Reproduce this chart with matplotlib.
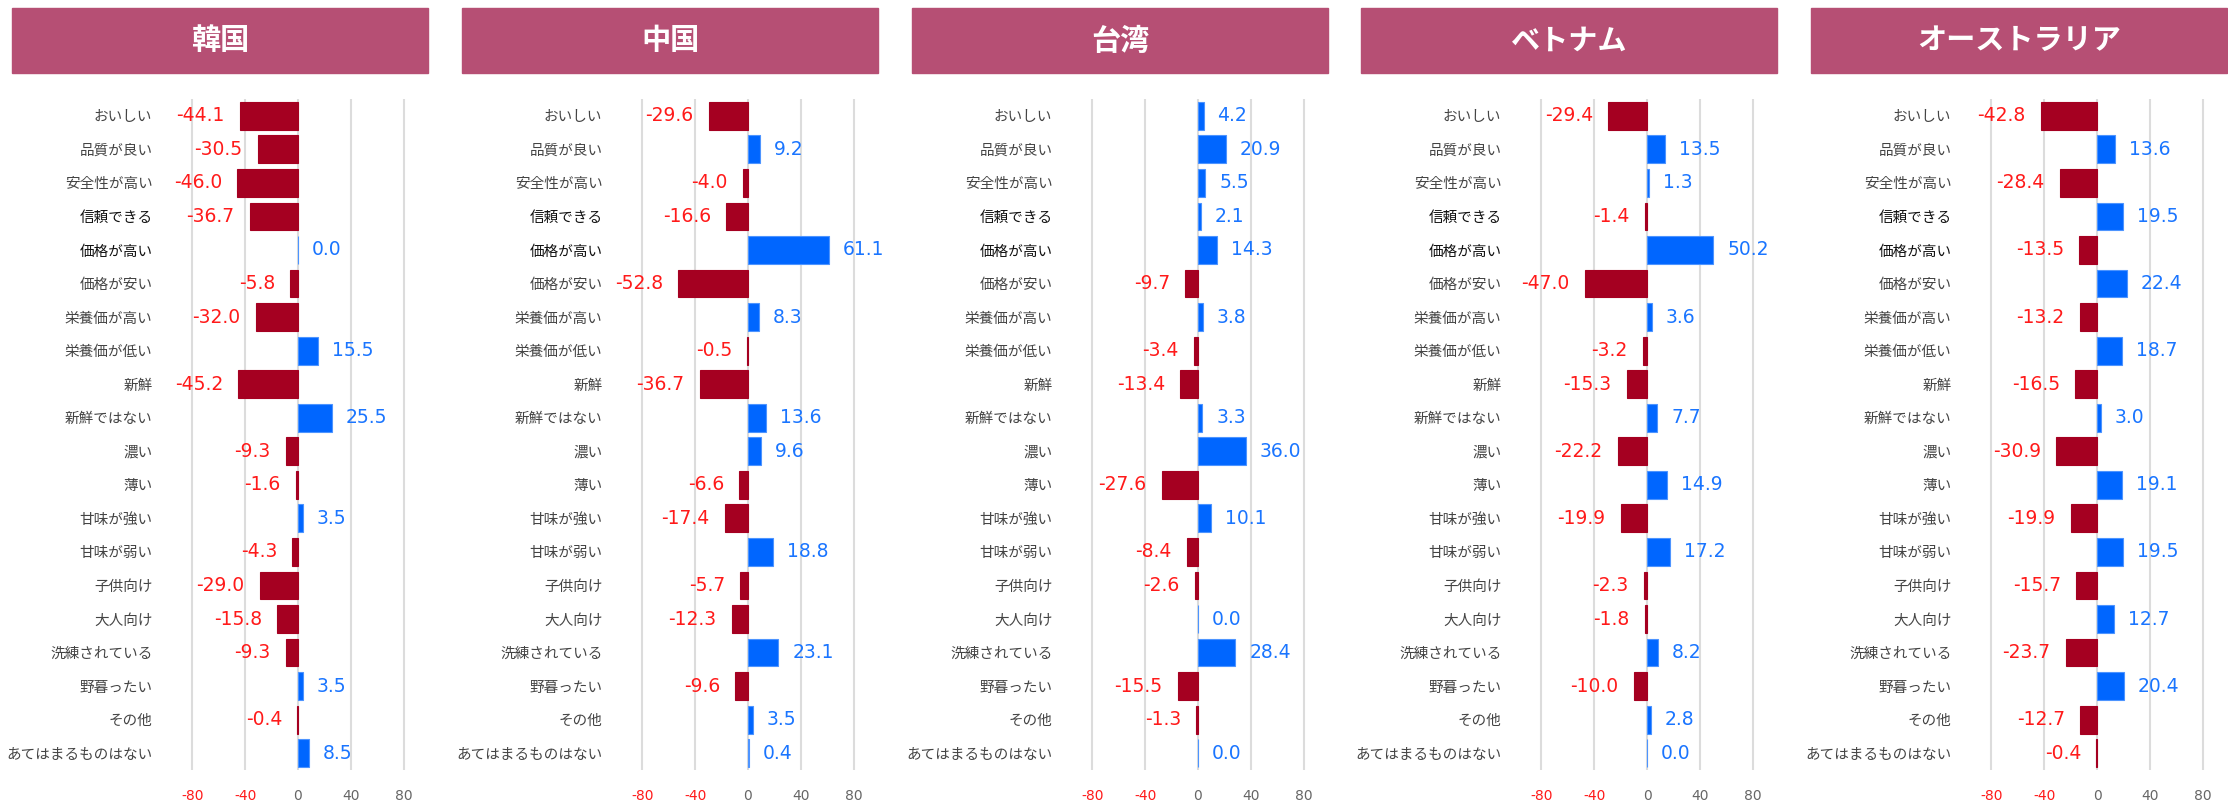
import matplotlib.pyplot as plt
from matplotlib.patches import Rectangle

plt.rcParams['font.family'] = ['Noto Sans CJK JP', 'DejaVu Sans']

items = ['おいしい', '品質が良い', '安全性が高い', '信頼できる', '価格が高い', '価格が安い',
         '栄養価が高い', '栄養価が低い', '新鮮', '新鮮ではない', '濃い', '薄い',
         '甘味が強い', '甘味が弱い', '子供向け', '大人向け', '洗練されている', '野暮ったい',
         'その他', 'あてはまるものはない']
bold_items = ['信頼できる', '価格が高い']

countries = ['韓国', '中国', '台湾', 'ベトナム', 'オーストラリア']

korea = [-44.1, -30.5, -46.0, -36.7, 0.0, -5.8, -32.0, 15.5, -45.2, 25.5,
         -9.3, -1.6, 3.5, -4.3, -29.0, -15.8, -9.3, 3.5, -0.4, 8.5]
china = [-29.6, 9.2, -4.0, -16.6, 61.1, -52.8, 8.3, -0.5, -36.7, 13.6,
         9.6, -6.6, -17.4, 18.8, -5.7, -12.3, 23.1, -9.6, 3.5, 0.4]
taiwan = [4.2, 20.9, 5.5, 2.1, 14.3, -9.7, 3.8, -3.4, -13.4, 3.3,
          36.0, -27.6, 10.1, -8.4, -2.6, 0.0, 28.4, -15.5, -1.3, 0.0]
vietnam = [-29.4, 13.5, 1.3, -1.4, 50.2, -47.0, 3.6, -3.2, -15.3, 7.7,
           -22.2, 14.9, -19.9, 17.2, -2.3, -1.8, 8.2, -10.0, 2.8, 0.0]
australia = [-42.8, 13.6, -28.4, 19.5, -13.5, 22.4, -13.2, 18.7, -16.5, 3.0,
             -30.9, 19.1, -19.9, 19.5, -15.7, 12.7, -23.7, 20.4, -12.7, -0.4]
all_values = [korea, china, taiwan, vietnam, australia]

xticks = [-80, -40, 0, 40, 80]

W, H = 2228, 800
fig = plt.figure(figsize=(W / 100, H / 100), dpi=100)

neg_bar = '#a50021'
pos_bar = '#0066ff'
neg_txt = '#ff1a1a'
pos_txt = '#1a75ff'
header_col = '#b64f74'

zeros = [298, 748, 1198, 1647, 2097]
scale = 1.32   # px per unit
top, bottom = 99, 770

for k, (name, vals) in enumerate(zip(countries, all_values)):
    z = zeros[k]
    left = z - 85 * scale
    ax = fig.add_axes([left / W, 1 - bottom / H, 170 * scale / W, (bottom - top) / H])
    ax.set_xlim(-85, 85)
    ax.set_ylim(len(items) - 0.5, -0.5)

    ypos = list(range(len(items)))
    colors = [neg_bar if v < 0 else pos_bar for v in vals]
    edges = [neg_bar if v < 0 else '#4d94ff' for v in vals]
    ax.barh(ypos, vals, height=0.83, color=colors, edgecolor=edges, linewidth=0.8, zorder=3)

    # value labels
    for y, v in zip(ypos, vals):
        if v < 0:
            ax.annotate(f'{v:.1f}', (v, y), xytext=(-11, 0), textcoords='offset points',
                        ha='right', va='center', color=neg_txt, fontsize=13.5,
                        family='DejaVu Sans')
        else:
            ax.annotate(f'{v:.1f}', (v, y), xytext=(10, 0), textcoords='offset points',
                        ha='left', va='center', color=pos_txt, fontsize=13.5,
                        family='DejaVu Sans')

    for t in xticks:
        ax.axvline(t, color='#dcdcdc', linewidth=1.5, zorder=1)

    ax.set_yticks(ypos)
    ax.set_yticklabels(items, fontsize=10.5)
    for lab in ax.get_yticklabels():
        lab.set_color('#111111' if lab.get_text() in bold_items else '#444444')
    ax.set_xticks(xticks)
    ax.set_xticklabels([str(t) for t in xticks], fontsize=10, family='DejaVu Sans')
    for lab, t in zip(ax.get_xticklabels(), xticks):
        lab.set_color('#ff1a1a' if t < 0 else '#666666')
    ax.tick_params(axis='y', length=0, pad=24)
    ax.tick_params(axis='x', length=0, pad=14)
    for s in ax.spines.values():
        s.set_visible(False)

    # header box
    hx0, hx1 = z - 286, z + 130
    fig.patches.append(Rectangle((hx0 / W, 1 - 73 / H), (hx1 - hx0) / W, 65 / H,
                                 transform=fig.transFigure, color=header_col, zorder=0))
    fig.text((hx0 + hx1) / 2 / W, 1 - 40.5 / H, name, color='white', fontsize=21,
             fontweight='bold', ha='center', va='center')

fig.savefig('out.png', dpi=100)
